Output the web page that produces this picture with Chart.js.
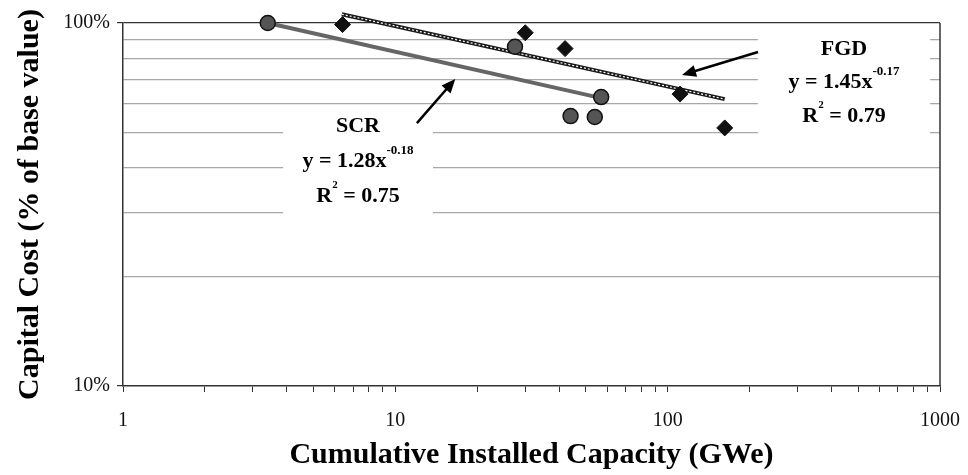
<!DOCTYPE html>
<html><head><meta charset="utf-8">
<script src="https://cdn.jsdelivr.net/npm/chart.js@4/dist/chart.umd.min.js"></script>
<style>html,body{margin:0;padding:0;background:#fff}</style>
</head><body>
<canvas id="c" width="968" height="475"></canvas>
<script>
// ---- data ----
const scrX = [3.4, 27.5, 57, 44, 54];
const scrY = [1.00, 0.86, 0.625, 0.554, 0.551];
const fgdX = [6.4, 30, 42, 111, 162];
const fgdY = [0.99, 0.94, 0.85, 0.637, 0.514];
const scrTrendX = [3.4, 55];
const scrTrendY = [1.0, 0.625];
const fgdTrendX = [6.36, 162];
const fgdTrendY = [1.057, 0.617];
const xTickValues = [1,2,3,4,5,6,7,8,9,10,20,30,40,50,60,70,80,90,100,200,300,400,500,600,700,800,900,1000];
const xTickLabels = {1:'1', 10:'10', 100:'100', 1000:'1000'};
const yTickValues = [0.1,0.2,0.3,0.4,0.5,0.6,0.7,0.8,0.9,1];
const yTickLabels = ['10%','','','','','','','','','100%'];
const xTitle = 'Cumulative Installed Capacity (GWe)';
const yTitle = 'Capital Cost (% of base value)';

// annotations (data coordinates)
const notes = [
  {box:[3.87,13.75,0.583,0.294], cx:7.29, title:'SCR', titleY:0.52,
   eq:'y = 1.28x', eqSup:'-0.18', eqY:0.401, r2:' = 0.75', r2Y:0.322,
   arrow:[12.0,0.530,16.6,0.701]},
  {box:[214.7,919,0.956,0.447], cx:444, title:'FGD', titleY:0.848,
   eq:'y = 1.45x', eqSup:'-0.17', eqY:0.662, r2:' = 0.79', r2Y:0.535,
   arrow:[214.7,0.832,112.9,0.719]}
];

const pts = (xs, ys) => xs.map((x,i)=>({x:x, y:ys[i]}));
const FONT = "'Liberation Serif', 'Times New Roman', serif";

const notePlugin = {
  id:'notes',
  beforeDatasetsDraw(chart){
    const {ctx, scales:{x,y}} = chart;
    ctx.save();
    ctx.fillStyle = '#fff';
    notes.forEach(n=>{
      const x0=x.getPixelForValue(n.box[0]), x1=x.getPixelForValue(n.box[1]);
      const y0=y.getPixelForValue(n.box[2]), y1=y.getPixelForValue(n.box[3]);
      ctx.fillRect(x0,y0,x1-x0,y1-y0);
    });
    ctx.restore();
  },
  afterDatasetsDraw(chart){
    const {ctx, scales:{x,y}, chartArea:a} = chart;
    ctx.save();
    // right frame
    ctx.strokeStyle='#333'; ctx.lineWidth=1.5;
    ctx.beginPath(); ctx.moveTo(a.right,a.top); ctx.lineTo(a.right,a.bottom); ctx.stroke();
    ctx.fillStyle='#000';
    notes.forEach(n=>{
      const cx = x.getPixelForValue(n.cx);
      ctx.textBaseline='middle'; ctx.textAlign='center';
      ctx.font = 'bold 22px '+FONT;
      ctx.fillText(n.title, cx, y.getPixelForValue(n.titleY));
      // equation line
      ctx.textBaseline='alphabetic'; ctx.textAlign='left';
      ctx.font='bold 22px '+FONT; const w1=ctx.measureText(n.eq).width;
      ctx.font='bold 13px '+FONT; const w2=ctx.measureText(n.eqSup).width;
      let sx = cx-(w1+w2)/2, by=y.getPixelForValue(n.eqY);
      ctx.font='bold 22px '+FONT; ctx.fillText(n.eq, sx, by);
      ctx.font='bold 13px '+FONT; ctx.fillText(n.eqSup, sx+w1, by-13);
      // R2 line
      ctx.font='bold 22px '+FONT; const wr=ctx.measureText('R').width, w3=ctx.measureText(n.r2).width;
      ctx.font='bold 11px '+FONT; const ws=ctx.measureText('2').width;
      sx = cx-(wr+ws+w3)/2; by=y.getPixelForValue(n.r2Y);
      ctx.font='bold 22px '+FONT; ctx.fillText('R', sx, by);
      ctx.font='bold 11px '+FONT; ctx.fillText('2', sx+wr, by-14);
      ctx.font='bold 22px '+FONT; ctx.fillText(n.r2, sx+wr+ws, by);
      // arrow
      const ax0=x.getPixelForValue(n.arrow[0]), ay0=y.getPixelForValue(n.arrow[1]);
      const ax1=x.getPixelForValue(n.arrow[2]), ay1=y.getPixelForValue(n.arrow[3]);
      const ang=Math.atan2(ay1-ay0, ax1-ax0), L=14, W=6;
      ctx.strokeStyle='#000'; ctx.lineWidth=2.5;
      ctx.beginPath(); ctx.moveTo(ax0,ay0);
      ctx.lineTo(ax1-Math.cos(ang)*L*0.8, ay1-Math.sin(ang)*L*0.8); ctx.stroke();
      ctx.fillStyle='#000';
      ctx.beginPath(); ctx.moveTo(ax1,ay1);
      ctx.lineTo(ax1-Math.cos(ang)*L - Math.sin(ang)*W, ay1-Math.sin(ang)*L + Math.cos(ang)*W);
      ctx.lineTo(ax1-Math.cos(ang)*L + Math.sin(ang)*W, ay1-Math.sin(ang)*L - Math.cos(ang)*W);
      ctx.closePath(); ctx.fill();
      ctx.fillStyle='#000';
    });
    ctx.restore();
  }
};

const isMajorY = v => Math.abs(v-1)<1e-9 || Math.abs(v-0.1)<1e-9;

new Chart(document.getElementById('c'), {
  type:'scatter',
  data:{datasets:[
    {label:'SCR', data:pts(scrX,scrY), pointStyle:'circle', pointRadius:7.5,
     backgroundColor:'#555', borderColor:'#111', borderWidth:1.5, order:0, clip:false},
    {label:'FGD', data:pts(fgdX,fgdY), pointStyle:'rectRot', pointRadius:8,
     backgroundColor:'#111', borderColor:'#111', borderWidth:1, order:0, clip:false},
    {label:'SCR trend', data:pts(scrTrendX,scrTrendY), showLine:true, pointRadius:0,
     borderColor:'#666', borderWidth:4, order:2, clip:false},
    {label:'FGD trend', data:pts(fgdTrendX,fgdTrendY), showLine:true, pointRadius:0,
     borderColor:'#1a1a1a', borderWidth:4, order:2, clip:false},
    {label:'FGD trend hi', data:pts(fgdTrendX,fgdTrendY), showLine:true, pointRadius:0,
     borderColor:'#fff', borderWidth:1.2, borderDash:[2,2], order:1, clip:false}
  ]},
  options:{
    responsive:false, animation:false, devicePixelRatio:1,
    layout:{padding:{left:0,right:28,top:23,bottom:0}},
    plugins:{legend:{display:false}, tooltip:{enabled:false}},
    scales:{
      x:{type:'logarithmic', min:1, max:1000,
        afterBuildTicks(s){ s.ticks = xTickValues.map(v=>({value:v})); },
        afterFit(s){ s.height = 89; s.paddingLeft = 0; s.paddingRight = 0; },
        grid:{drawOnChartArea:false, drawTicks:true, tickLength:6, tickColor:'#333', tickWidth:1},
        border:{display:true, color:'#333', width:1.5},
        ticks:{autoSkip:false, maxRotation:0, padding:17, color:'#111',
          font:{family:FONT, size:20},
          callback:(v)=> xTickLabels[v] || ''},
        title:{display:true, text:xTitle, color:'#000', padding:{top:2,bottom:2},
          font:{family:FONT, size:30, weight:'bold'}}
      },
      y:{type:'logarithmic', min:0.1, max:1,
        afterBuildTicks(s){ s.ticks = yTickValues.map(v=>({value:v})); },
        afterFit(s){ s.width = 123; s.paddingTop = 0; s.paddingBottom = 0; },
        grid:{drawOnChartArea:true, drawTicks:true, tickLength:6, lineWidth:1.2,
          color:(c)=> { const v=c.tick && c.tick.value; if (Math.abs(v-1)<1e-9) return '#333'; if (Math.abs(v-0.1)<1e-9) return 'rgba(0,0,0,0)'; return '#a8a8a8'; },
          tickColor:(c)=> (c.tick && isMajorY(c.tick.value)) ? '#333' : 'rgba(0,0,0,0)'},
        border:{display:true, color:'#333', width:1.5},
        ticks:{autoSkip:false, padding:7, color:'#111', font:{family:FONT, size:20},
          callback:(v)=> { const i = yTickValues.findIndex(t=>Math.abs(t-v)<1e-9); return i>=0 ? yTickLabels[i] : ''; }},
        title:{display:true, text:yTitle, color:'#000', padding:{top:12,bottom:0},
          font:{family:FONT, size:30, weight:'bold'}}
      }
    }
  },
  plugins:[notePlugin]
});
</script>
</body></html>
